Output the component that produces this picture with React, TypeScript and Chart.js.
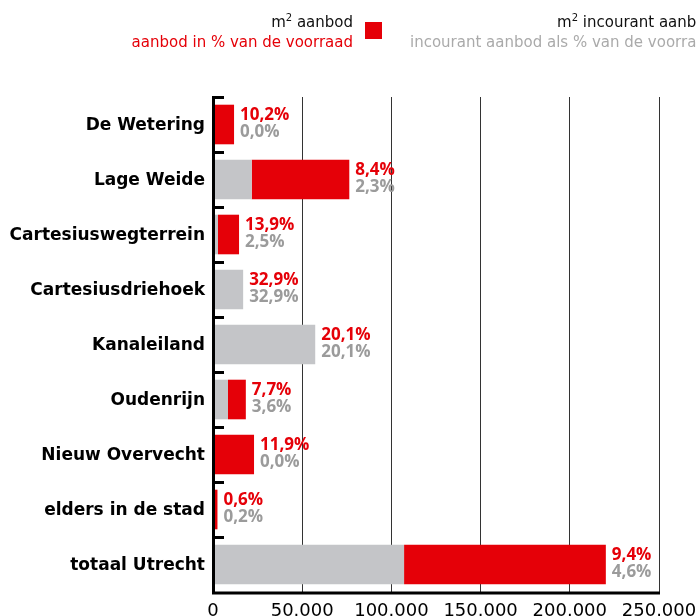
import React, { useEffect, useRef } from "react";
import { Chart, registerables } from "chart.js";

Chart.register(...registerables);

const categories = [
  "De Wetering",
  "Lage Weide",
  "Cartesiuswegterrein",
  "Cartesiusdriehoek",
  "Kanaleiland",
  "Oudenrijn",
  "Nieuw Overvecht",
  "elders in de stad",
  "totaal Utrecht",
];
// m² aanbod (total offered floor area)
const aanbod = [11800, 76400, 14600, 16900, 57300, 18400, 23000, 2500, 220200];
// m² incourant aanbod
const incourant = [0, 21700, 2800, 16900, 57300, 8400, 0, 800, 107100];
// percentages
const aanbodPct = ["10,2%", "8,4%", "13,9%", "32,9%", "20,1%", "7,7%", "11,9%", "0,6%", "9,4%"];
const incourantPct = ["0,0%", "2,3%", "2,5%", "32,9%", "20,1%", "3,6%", "0,0%", "0,2%", "4,6%"];
const xTicks = [0, 50000, 100000, 150000, 200000, 250000];

const RED = "#e50008";
const GRAY = "#c4c5c8";
const GRAY_TEXT = "#9b9b9b";

const courant = aanbod.map((v, i) => v - incourant[i]);

const labelPlugin = {
  id: "valueLabels",
  afterDatasetsDraw(chart: any) {
    const ctx = chart.ctx;
    const m0 = chart.getDatasetMeta(0);
    const m1 = chart.getDatasetMeta(1);
    ctx.save();
    ctx.font = "bold 17px 'Open Sans'";
    ctx.textAlign = "left";
    ctx.textBaseline = "middle";
    categories.forEach((_, i) => {
      const b0 = m0.data[i];
      const b1 = m1.data[i];
      const xEnd = Math.max(b0.x, b1.x);
      const y = b1.y;
      ctx.fillStyle = RED;
      ctx.fillText(aanbodPct[i], xEnd + 6, y - 9);
      ctx.fillStyle = GRAY_TEXT;
      ctx.fillText(incourantPct[i], xEnd + 6, y + 8);
    });
    ctx.restore();
  },
};

const framePlugin = {
  id: "frame",
  afterDraw(chart: any) {
    const ctx = chart.ctx;
    const { left, right, top, bottom } = chart.chartArea;
    ctx.save();
    // category boundary ticks (inward)
    ctx.strokeStyle = "#000";
    ctx.lineWidth = 3;
    const n = categories.length;
    const step = (bottom - top) / n;
    for (let i = 0; i < n; i++) {
      const yy = Math.round(top + i * step) + 0.5;
      ctx.beginPath();
      ctx.moveTo(left, yy);
      ctx.lineTo(left + 11, yy);
      ctx.stroke();
    }
    // left & bottom axis
    ctx.beginPath();
    ctx.moveTo(left + 0.5, top - 1);
    ctx.lineTo(left + 0.5, bottom + 1);
    ctx.lineTo(right + 1, bottom + 1);
    ctx.stroke();
    ctx.restore();

    // legend
    ctx.save();
    ctx.textBaseline = "alphabetic";
    ctx.font = "15px 'DejaVu Sans'";
    const drawM2 = (text: string, rightX: number, baseY: number) => {
      ctx.textAlign = "left";
      ctx.font = "15px 'DejaVu Sans'";
      const restW = ctx.measureText(text).width;
      ctx.font = "10px 'DejaVu Sans'";
      const supW = ctx.measureText("2").width;
      ctx.font = "15px 'DejaVu Sans'";
      const mW = ctx.measureText("m").width;
      const total = mW + supW + restW;
      let x = rightX - total;
      ctx.fillStyle = "#111";
      ctx.fillText("m", x, baseY);
      x += mW;
      ctx.font = "10px 'DejaVu Sans'";
      ctx.fillText("2", x, baseY - 6);
      x += supW;
      ctx.font = "15px 'DejaVu Sans'";
      ctx.fillText(text, x, baseY);
    };
    // item 1
    drawM2(" aanbod", 353, 27);
    ctx.textAlign = "right";
    ctx.fillStyle = RED;
    ctx.fillText("aanbod in % van de voorraad", 353, 47);
    ctx.fillStyle = RED;
    ctx.fillRect(365, 22, 17, 17);
    // item 2
    ctx.font = "15px 'DejaVu Sans'";
    const l2 = "incourant aanbod als % van de voorraad";
    const w2 = ctx.measureText(l2).width;
    const r2 = 410 + w2;
    ctx.textAlign = "right";
    ctx.fillStyle = "#aaaaaa";
    ctx.fillText(l2, r2, 47);
    drawM2(" incourant aanbod", r2, 27);
    ctx.fillStyle = GRAY;
    ctx.fillRect(r2 + 12, 22, 17, 17);
    ctx.restore();
  },
};

export default function App() {
  const ref = useRef<HTMLCanvasElement>(null);
  useEffect(() => {
    document.body.style.margin = "0";
    const chart = new Chart(ref.current as HTMLCanvasElement, {
      type: "bar",
      data: {
        labels: categories,
        datasets: [
          {
            label: "m² incourant aanbod",
            data: incourant,
            backgroundColor: GRAY,
            borderWidth: 0,
            categoryPercentage: 1,
            barPercentage: 0.72,
          },
          {
            label: "m² aanbod",
            data: courant,
            backgroundColor: RED,
            borderWidth: 0,
            categoryPercentage: 1,
            barPercentage: 0.72,
          },
        ],
      },
      options: {
        indexAxis: "y",
        animation: false,
        responsive: false,
        maintainAspectRatio: false,
        layout: { padding: { top: 97, right: 38, left: 0, bottom: 0 } },
        plugins: { legend: { display: false }, tooltip: { enabled: false } },
        scales: {
          x: {
            stacked: true,
            min: 0,
            max: 250000,
            afterBuildTicks(scale: any) {
              scale.ticks = xTicks.map((v) => ({ value: v }));
            },
            afterFit(scale: any) {
              scale.height = 24;
              scale.paddingLeft = 0;
              scale.paddingRight = 0;
            },
            grid: {
              color: (c: any) => (c.tick && c.tick.value === 0 ? "rgba(0,0,0,0)" : "#333"),
              lineWidth: 1,
              drawTicks: false,
            },
            border: { display: false },
            ticks: {
              color: "#000",
              font: { family: "'DejaVu Sans'", size: 18 },
              padding: 9,
              maxRotation: 0,
              autoSkip: false,
              callback: (v: any) => Number(v).toLocaleString("de-DE"),
            },
          },
          y: {
            stacked: true,
            afterFit(scale: any) {
              scale.width = 213;
            },
            grid: { display: false, drawTicks: false },
            border: { display: false },
            ticks: {
              color: "#000",
              font: { family: "'DejaVu Sans'", size: 17, weight: "bold" },
              padding: 8,
              labelOffset: 1.5,
              autoSkip: false,
            },
          },
        },
      },
      plugins: [labelPlugin, framePlugin],
    });
    return () => chart.destroy();
  }, []);
  return (
    <div style={{ width: 697, height: 616 }}>
      <canvas ref={ref} width={697} height={616} style={{ display: "block" }} />
    </div>
  );
}
